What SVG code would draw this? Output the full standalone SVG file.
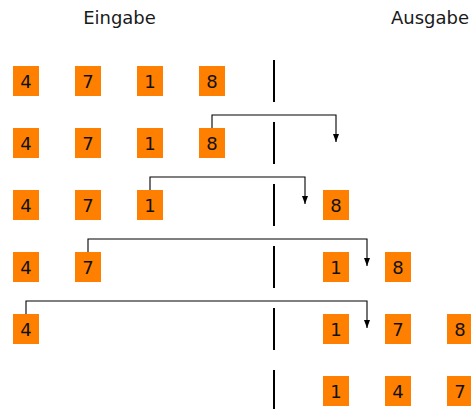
<svg xmlns="http://www.w3.org/2000/svg" width="471" height="409" viewBox="0 0 471 409">
<defs>
<style>
.box rect{fill:#ff8000;}
.box text{font-family:"DejaVu Sans","Liberation Sans",sans-serif;font-size:18px;fill:#111;text-anchor:middle;}
.hdr{font-family:"DejaVu Sans","Liberation Sans",sans-serif;font-size:18px;fill:#1a1a1a;text-anchor:middle;}
.sep{stroke:#000;stroke-width:2;}
.arr{fill:none;stroke:#000;stroke-width:1.1;marker-end:url(#ah);}
</style>
<marker id="ah" viewBox="0 0 8 8" refX="8" refY="4" markerWidth="8" markerHeight="8" markerUnits="userSpaceOnUse" orient="auto">
<path d="M0,1 L8,4 L0,7 Z" fill="#000"/>
</marker>
</defs>
<text class="hdr" x="119.5" y="24">Eingabe</text>
<text class="hdr" x="430" y="24">Ausgabe</text>
<g id="separators">
<line class="sep" x1="274" y1="60" x2="274" y2="102"/>
<line class="sep" x1="274" y1="122" x2="274" y2="164"/>
<line class="sep" x1="274" y1="184" x2="274" y2="226"/>
<line class="sep" x1="274" y1="246" x2="274" y2="288"/>
<line class="sep" x1="274" y1="308" x2="274" y2="350"/>
<line class="sep" x1="274" y1="370" x2="274" y2="412"/>
</g>
<g id="row1">
<g id="r1a" class="box"><rect x="13" y="66" width="26" height="30"/><text x="26" y="87.5">4</text></g>
<g id="r1b" class="box"><rect x="75" y="66" width="26" height="30"/><text x="88" y="87.5">7</text></g>
<g id="r1c" class="box"><rect x="137" y="66" width="26" height="30"/><text x="150" y="87.5">1</text></g>
<g id="r1d" class="box"><rect x="199" y="66" width="26" height="30"/><text x="212" y="87.5">8</text></g>
</g>
<g id="row2">
<g id="r2a" class="box"><rect x="13" y="128" width="26" height="30"/><text x="26" y="149.5">4</text></g>
<g id="r2b" class="box"><rect x="75" y="128" width="26" height="30"/><text x="88" y="149.5">7</text></g>
<g id="r2c" class="box"><rect x="137" y="128" width="26" height="30"/><text x="150" y="149.5">1</text></g>
<g id="r2d" class="box"><rect x="199" y="128" width="26" height="30"/><text x="212" y="149.5">8</text></g>
</g>
<g id="row3">
<g id="r3a" class="box"><rect x="13" y="190" width="26" height="30"/><text x="26" y="211.5">4</text></g>
<g id="r3b" class="box"><rect x="75" y="190" width="26" height="30"/><text x="88" y="211.5">7</text></g>
<g id="r3c" class="box"><rect x="137" y="190" width="26" height="30"/><text x="150" y="211.5">1</text></g>
<g id="r3o1" class="box"><rect x="323" y="190" width="26" height="30"/><text x="336" y="211.5">8</text></g>
</g>
<g id="row4">
<g id="r4a" class="box"><rect x="13" y="252" width="26" height="30"/><text x="26" y="273.5">4</text></g>
<g id="r4b" class="box"><rect x="75" y="252" width="26" height="30"/><text x="88" y="273.5">7</text></g>
<g id="r4o1" class="box"><rect x="323" y="252" width="26" height="30"/><text x="336" y="273.5">1</text></g>
<g id="r4o2" class="box"><rect x="385" y="252" width="26" height="30"/><text x="398" y="273.5">8</text></g>
</g>
<g id="row5">
<g id="r5a" class="box"><rect x="13" y="314" width="26" height="30"/><text x="26" y="335.5">4</text></g>
<g id="r5o1" class="box"><rect x="323" y="314" width="26" height="30"/><text x="336" y="335.5">1</text></g>
<g id="r5o2" class="box"><rect x="385" y="314" width="26" height="30"/><text x="398" y="335.5">7</text></g>
<g id="r5o3" class="box"><rect x="447" y="314" width="26" height="30"/><text x="460" y="335.5">8</text></g>
</g>
<g id="row6">
<g id="r6o1" class="box"><rect x="323" y="376" width="26" height="30"/><text x="336" y="397.5">1</text></g>
<g id="r6o2" class="box"><rect x="385" y="376" width="26" height="30"/><text x="398" y="397.5">4</text></g>
<g id="r6o3" class="box"><rect x="447" y="376" width="26" height="30"/><text x="460" y="397.5">7</text></g>
</g>
<g id="connectors">
<path class="arr" d="M212,128 V115 H336 V142"/>
<path class="arr" d="M150,190 V177 H305 V204"/>
<path class="arr" d="M88,252 V239 H367 V266"/>
<path class="arr" d="M26,314 V301 H367 V328"/>
</g>
</svg>
